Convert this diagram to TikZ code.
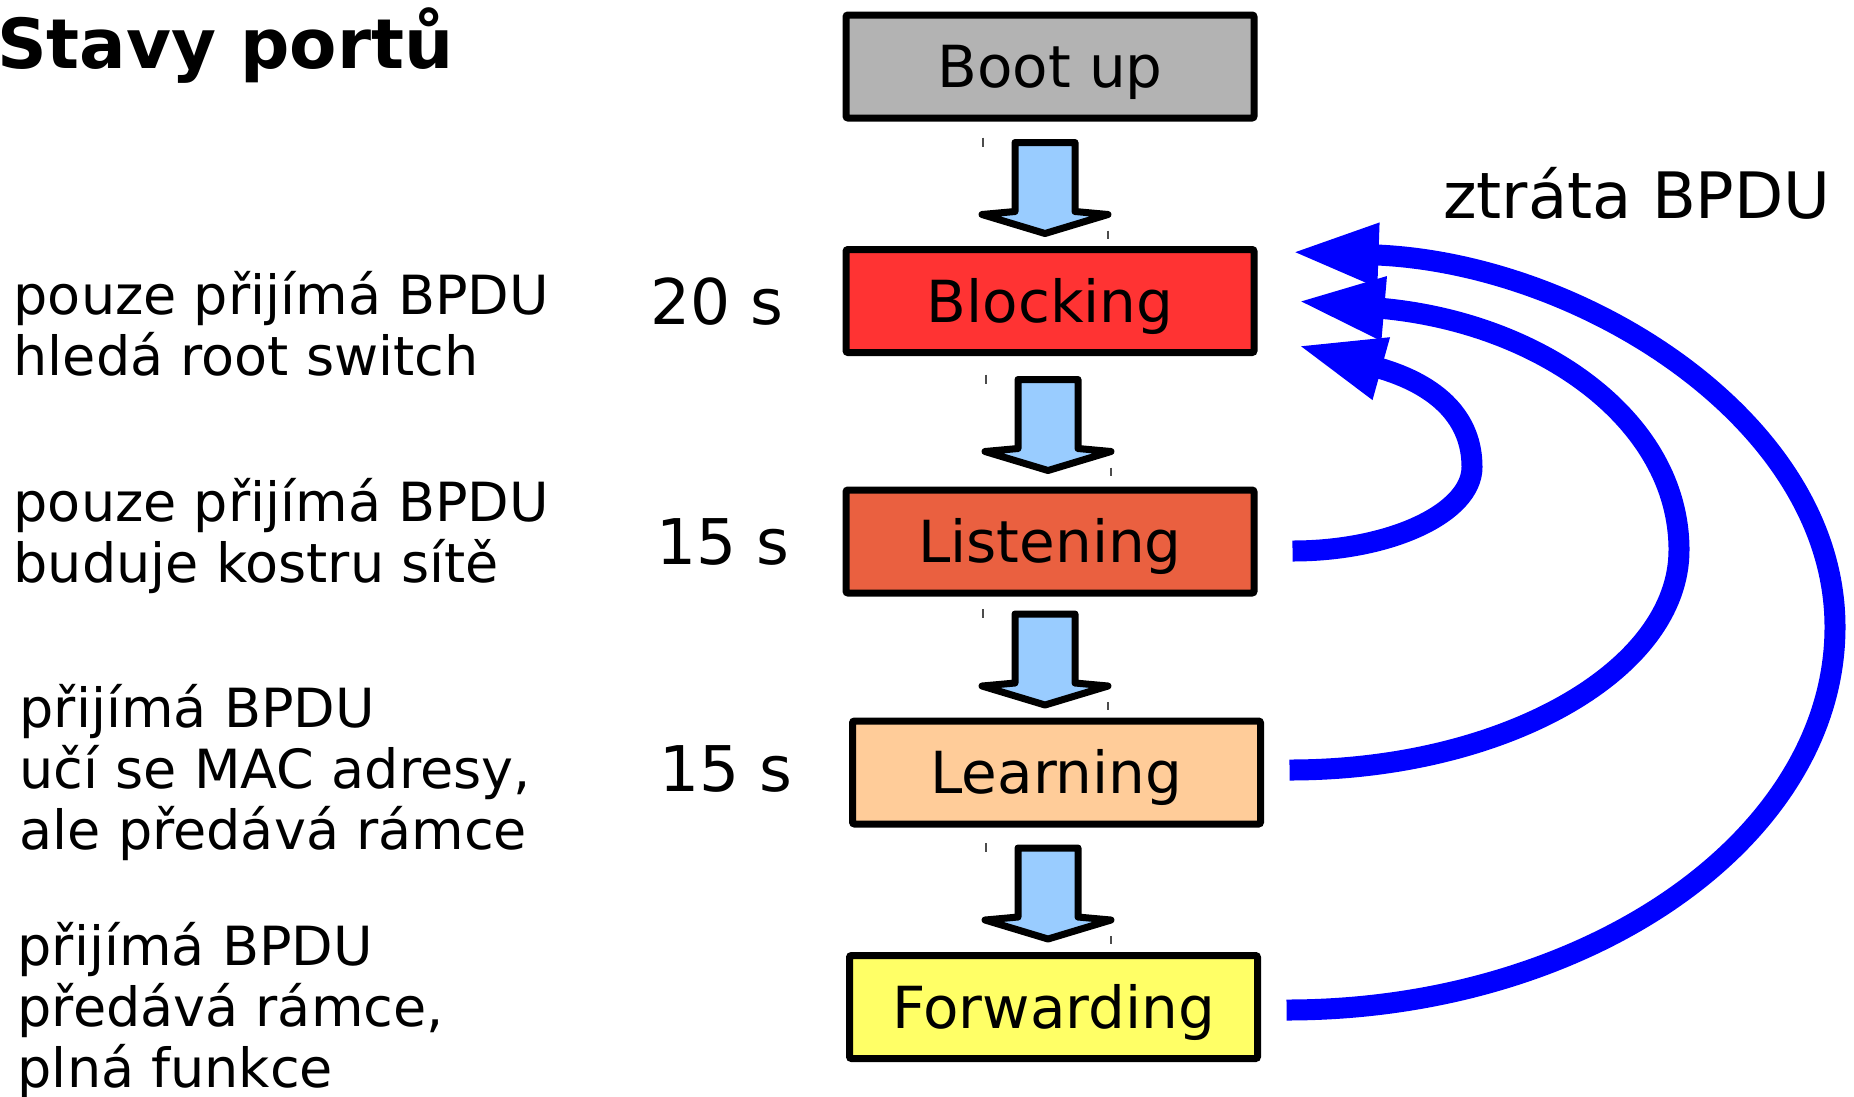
\documentclass[tikz,border=0pt]{standalone}
\usepackage{fontspec}
\setmainfont{DejaVu Sans}
\usetikzlibrary{positioning,calc,arrows.meta}

\definecolor{bootgray}{HTML}{B3B3B3}
\definecolor{blockred}{HTML}{FF3333}
\definecolor{listenred}{HTML}{EA6040}
\definecolor{learnpeach}{HTML}{FFCC99}
\definecolor{fwdyellow}{HTML}{FFFF66}
\definecolor{arrowblue}{HTML}{99CCFF}

\begin{document}
\begin{tikzpicture}[x=1pt,y=-1pt,
    state/.style={draw,line width=7pt,rounded corners=2pt,minimum width=408pt,minimum height=103pt,inner sep=0pt,text height=42pt,text depth=0pt,font=\fontsize{58}{70}\selectfont},
    time/.style={inner sep=0pt,text height=46pt,text depth=0pt,font=\fontsize{63}{75}\selectfont},
    desc/.style={anchor=base west,align=left,inner sep=0pt,font=\fontsize{54}{61}\selectfont},
    lossarrow/.style={blue,line width=21pt,-{Triangle[length=88pt,width=58pt]}},
    pics/down/.style={code={
        \draw[line width=7pt,line join=round,fill=arrowblue](-30,0)--(30,0)--(30,69)--(63,72)--(0,91)--(-63,72)--(-30,69)--cycle;
        \draw[line width=1.5pt,black!70](-62,-5)--(-62,4) (63,88)--(63,96);
    }}]
    \useasboundingbox (0,0) rectangle (1854,1096);

    \node[anchor=base west,inner sep=0pt,font=\bfseries\fontsize{69}{80}\selectfont] (title) at (-3,68) {Stavy portů};

    \node[state,fill=bootgray] (boot) at (1050,66.5) {Boot up};
    \node[state,fill=blockred] (blocking) at (1050,301) {Blocking};
    \node[state,fill=listenred] (listening) at (1050,541.5) {Listening};
    \node[state,fill=learnpeach] (learning) at (1056.5,772.5) {Learning};
    \node[state,fill=fwdyellow] (forwarding) at (1053.5,1007) {Forwarding};

    \pic at ($(boot.south)+(-5,21)$) {down};
    \pic at ($(blocking.south)+(-2,23.5)$) {down};
    \pic at ($(listening.south)+(-5,17.5)$) {down};
    \pic at ($(learning.south)+(-8.5,20.5)$) {down};

    \node[time,left=59pt of blocking] (t1) {20 s};
    \node[time,left=53pt of listening] (t2) {15 s};
    \node[time,left=56pt of learning,yshift=4pt] (t3) {15 s};

    % base anchor sits on the last line
    \node[desc] (d1) at (13.5,375) {pouze přijímá BPDU\\hledá root switch};
    \node[desc] (d2) at (13.5,582) {pouze přijímá BPDU\\buduje kostru sítě};
    \node[desc] (d3) at (19.5,849) {přijímá BPDU\\učí se MAC adresy,\\ale předává rámce};
    \node[desc] (d4) at (17.5,1087) {přijímá BPDU\\předává rámce,\\plná funkce};

    \node[time,anchor=west,font=\fontsize{64}{76}\selectfont] (losslabel) at (1443,195) {ztráta BPDU};

    \draw[lossarrow]($(listening.east)+(35,9.5)$) .. controls (1390,551) and (1472,513) .. (1472,467)
        .. controls (1472,420) and (1440,385) .. ($(blocking.east)+(39,44)$);
    \draw[lossarrow]($(learning.east)+(25.5,-2.5)$) .. controls (1503,770) and (1679,671) .. (1679,550)
        .. controls (1679,420) and (1540,322) .. ($(blocking.east)+(39,0)$);
    \draw[lossarrow]($(forwarding.east)+(25.5,3)$) .. controls (1588,1010) and (1835,838) .. (1835,627)
        .. controls (1835,420) and (1580,262) .. ($(blocking.east)+(33,-49)$);
\end{tikzpicture}
\end{document}
